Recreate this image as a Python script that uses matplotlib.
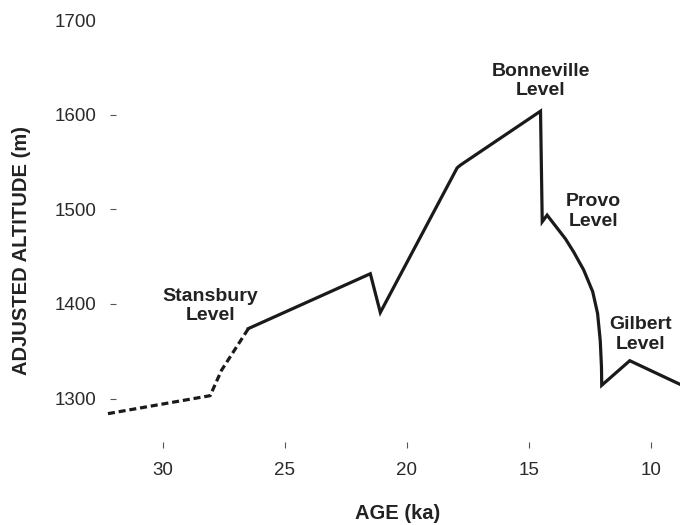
import numpy as np
import matplotlib.pyplot as plt

plt.rcParams['font.family'] = ['Liberation Sans', 'DejaVu Sans']

# lake level record, dashed part (older, uncertain)
age_dashed = [32.26, 28.07, 27.6, 26.5]
alt_dashed = [1284, 1303, 1330, 1374]

# solid part
age_solid = [26.5, 21.5, 21.09, 17.94, 17.8, 14.52, 14.45, 14.25, 14.1, 13.8, 13.5,
             13.16, 12.75, 12.38, 12.18, 12.07, 12.02, 12.01, 10.86, 8.8]
alt_solid = [1374, 1432, 1391, 1544, 1547, 1604, 1487, 1494, 1489, 1479, 1469,
             1455, 1436, 1413, 1390, 1361, 1333, 1314, 1340, 1315]

labels = ["Stansbury\nLevel", "Bonneville\nLevel", "Provo\nLevel", "Gilbert\nLevel"]
label_age = [28.07, 14.52, 12.34, 10.41]
label_alt = [1398, 1636, 1498, 1368]

x_ticks = [30, 25, 20, 15, 10]
y_ticks = [1300, 1400, 1500, 1600, 1700]

fig = plt.figure(figsize=(6.8, 5.25), dpi=100)
ax = fig.add_axes([116 / 680, 83 / 525, (680 - 116) / 680, 432 / 525])

ax.plot(age_dashed, alt_dashed, color='#1a1a1a', lw=2.3, ls=(0, (2.2, 1.2)), clip_on=False)
ax.plot(age_solid, alt_solid, color='#1a1a1a', lw=2.3, clip_on=False, solid_joinstyle='miter')

for t, a, h in zip(labels, label_age, label_alt):
    ax.text(a, h, t, ha='center', va='center', fontsize=14, fontweight='bold',
            color='#222222', linespacing=1.2)

ax.set_xlim(31.93, 8.8)
ax.set_ylim(1254, 1711)
ax.set_xticks(x_ticks)
ax.set_yticks(y_ticks)
ax.tick_params(axis='both', labelsize=13.5, labelcolor='#2a2a2a', color='#555555',
               length=4.5, width=0.8)
ax.tick_params(axis='x', pad=10)
ax.tick_params(axis='y', pad=10, length=4)
ax.yaxis.get_major_ticks()[-1].tick1line.set_visible(False)
for s in ax.spines.values():
    s.set_visible(False)

ax.set_xlabel("AGE (ka)", fontsize=14.5, fontweight='bold', color='#222222', labelpad=18)
ax.set_ylabel("ADJUSTED ALTITUDE (m)", fontsize=14.5, fontweight='bold', color='#222222')
ax.yaxis.set_label_coords(-0.15, 0.444)

fig.savefig("out.png", dpi=100)
